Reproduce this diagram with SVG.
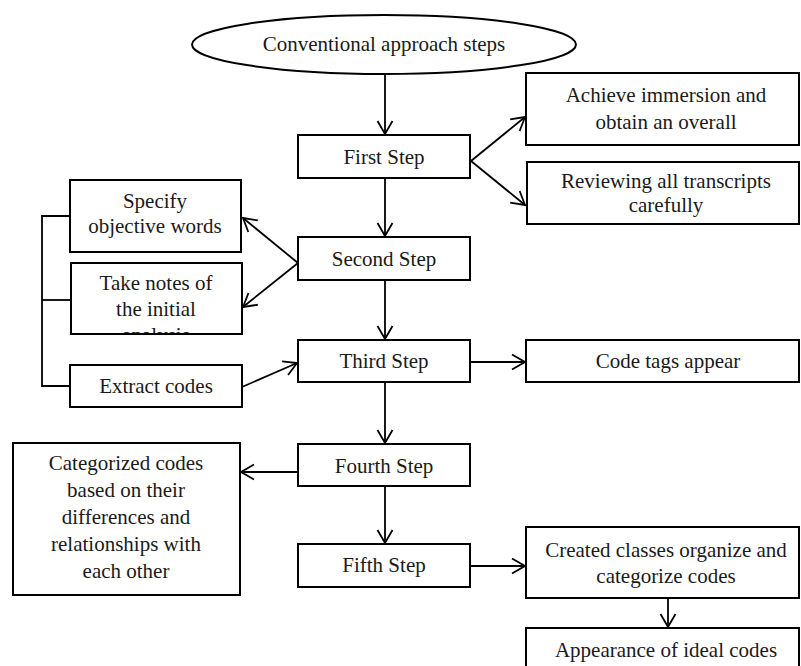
<svg xmlns="http://www.w3.org/2000/svg" width="801" height="666" viewBox="0 0 801 666">
  <style>
    .box { fill: #ffffff; stroke: #000000; stroke-width: 2; }
    .lbl { font-family: "Liberation Serif", "Times New Roman", serif; font-size: 21px; fill: #1a1a1a; text-anchor: middle; }
    .wire { fill: none; stroke: #000000; stroke-width: 1.8; }
    .arrow { fill: none; stroke: #000000; stroke-width: 1.8; marker-end: url(#head); }
  </style>
  <defs>
    <marker id="head" markerUnits="userSpaceOnUse" viewBox="-14 -9 16 18" markerWidth="16" markerHeight="18" refX="0" refY="0" orient="auto">
      <path d="M-13,-7.5 L0,0 L-13,7.5" fill="none" stroke="#000000" stroke-width="1.8"/>
    </marker>
    <clipPath id="notesClip">
      <rect x="72" y="264" width="169" height="69"/>
    </clipPath>
  </defs>

  <!-- connectors -->
  <g id="connectors">
    <line class="arrow" x1="385" y1="74" x2="385" y2="134"/>
    <line class="arrow" x1="385" y1="178" x2="385" y2="236"/>
    <line class="arrow" x1="385" y1="280" x2="385" y2="339"/>
    <line class="arrow" x1="385" y1="382" x2="385" y2="443"/>
    <line class="arrow" x1="385" y1="486" x2="385" y2="543"/>
    <line class="arrow" x1="471" y1="161" x2="525" y2="117"/>
    <line class="arrow" x1="471" y1="161" x2="525" y2="205"/>
    <line class="arrow" x1="298" y1="263" x2="243" y2="218"/>
    <line class="arrow" x1="298" y1="263" x2="243" y2="307"/>
    <line class="arrow" x1="242" y1="387" x2="297" y2="363"/>
    <line class="arrow" x1="470" y1="362" x2="525" y2="362"/>
    <line class="arrow" x1="298" y1="472" x2="241" y2="472"/>
    <line class="arrow" x1="470" y1="566" x2="525" y2="566"/>
    <line class="arrow" x1="668" y1="598" x2="668" y2="627"/>
    <!-- bracket joining the three left-hand boxes -->
    <path class="wire" d="M70,216 H42 V386 H70"/>
    <line class="wire" x1="42" y1="300" x2="71" y2="300"/>
  </g>

  <g id="start">
    <ellipse cx="384" cy="44.5" rx="192" ry="29.5" fill="#ffffff" stroke="#000000" stroke-width="2"/>
    <text class="lbl" x="384" y="51">Conventional approach steps</text>
  </g>

  <g id="step1">
    <rect class="box" x="298" y="135" width="172" height="43"/>
    <text class="lbl" x="384" y="164">First Step</text>
  </g>
  <g id="step2">
    <rect class="box" x="298" y="237" width="172" height="43"/>
    <text class="lbl" x="384" y="266">Second Step</text>
  </g>
  <g id="step3">
    <rect class="box" x="298" y="340" width="172" height="42"/>
    <text class="lbl" x="384" y="368">Third Step</text>
  </g>
  <g id="step4">
    <rect class="box" x="298" y="444" width="172" height="42"/>
    <text class="lbl" x="384" y="473">Fourth Step</text>
  </g>
  <g id="step5">
    <rect class="box" x="298" y="544" width="172" height="43"/>
    <text class="lbl" x="384" y="572">Fifth Step</text>
  </g>

  <g id="immersion">
    <rect class="box" x="526" y="73" width="273" height="72"/>
    <text class="lbl" x="666" y="102">Achieve immersion and</text>
    <text class="lbl" x="666" y="129">obtain an overall</text>
  </g>
  <g id="review">
    <rect class="box" x="527" y="162" width="272" height="62"/>
    <text class="lbl" x="666" y="188">Reviewing all transcripts</text>
    <text class="lbl" x="666" y="212">carefully</text>
  </g>
  <g id="specify">
    <rect class="box" x="70" y="180" width="171" height="72"/>
    <text class="lbl" x="155" y="208">Specify</text>
    <text class="lbl" x="155" y="233">objective words</text>
  </g>
  <g id="notes">
    <rect class="box" x="71" y="263" width="171" height="71"/>
    <g clip-path="url(#notesClip)">
      <text class="lbl" x="156" y="290">Take notes of</text>
      <text class="lbl" x="156" y="316">the initial</text>
      <text class="lbl" x="156" y="342">analysis</text>
    </g>
  </g>
  <g id="extract">
    <rect class="box" x="70" y="365" width="172" height="42"/>
    <text class="lbl" x="156" y="393">Extract codes</text>
  </g>
  <g id="tags">
    <rect class="box" x="526" y="340" width="273" height="42"/>
    <text class="lbl" x="668" y="368">Code tags appear</text>
  </g>
  <g id="categorized">
    <rect class="box" x="13" y="443" width="227" height="152"/>
    <text class="lbl" x="126" y="470">Categorized codes</text>
    <text class="lbl" x="126" y="497">based on their</text>
    <text class="lbl" x="126" y="524">differences and</text>
    <text class="lbl" x="126" y="551">relationships with</text>
    <text class="lbl" x="126" y="578">each other</text>
  </g>
  <g id="classes">
    <rect class="box" x="526" y="527" width="273" height="71"/>
    <text class="lbl" x="666" y="557">Created classes organize and</text>
    <text class="lbl" x="666" y="583">categorize codes</text>
  </g>
  <g id="ideal">
    <rect class="box" x="526" y="628" width="273" height="52"/>
    <text class="lbl" x="666" y="657">Appearance of ideal codes</text>
  </g>
</svg>
